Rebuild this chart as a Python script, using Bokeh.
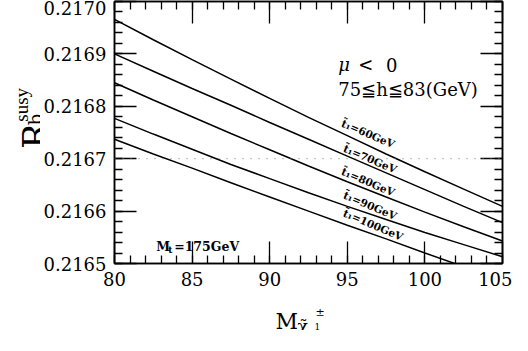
import numpy as np
from bokeh.plotting import figure
from bokeh.layouts import row, column
from bokeh.models import FixedTicker, PrintfTickFormatter, LinearAxis, Label, Span, Range1d, ColumnDataSource
from bokeh.embed import file_html
from bokeh.resources import INLINE
from bokeh.core.properties import value

# ---- data ----
mass = [80, 82.5, 85, 87.5, 90, 92.5, 95, 97.5, 100, 102.5, 105]
rb_60 = [0.216966, 0.216927, 0.216889, 0.216852, 0.216815, 0.216779, 0.216744, 0.216709, 0.216675, 0.216642, 0.216609]
rb_70 = [0.216900, 0.216867, 0.216834, 0.216802, 0.216769, 0.216737, 0.216705, 0.216673, 0.216641, 0.216609, 0.216578]
rb_80 = [0.216845, 0.216812, 0.216780, 0.216748, 0.216717, 0.216686, 0.216656, 0.216627, 0.216598, 0.216570, 0.216543]
rb_90 = [0.216777, 0.216747, 0.216718, 0.216689, 0.216662, 0.216635, 0.216609, 0.216584, 0.216559, 0.216536, 0.216513]
rb_100 = [0.216737, 0.216709, 0.216682, 0.216654, 0.216627, 0.216600, 0.216573, 0.216547, 0.216520, 0.216494, 0.216467]

curve_labels = ["t\u0303\u2081=60GeV", "t\u0303\u2081=70GeV", "t\u0303\u2081=80GeV", "t\u0303\u2081=90GeV", "t\u0303\u2081=100GeV"]
label_x = [96.35, 96.47, 96.35, 96.47, 96.67]
label_y = [0.216748, 0.216700, 0.216656, 0.216611, 0.216574]

x_ticks = [80, 85, 90, 95, 100, 105]
y_ticks = [0.2165, 0.2166, 0.2167, 0.2168, 0.2169, 0.2170]
ref_line = 0.2167

X0, X1, Y0, Y1 = 80, 105, 0.2165, 0.2170

# page-pixel layout
PAGE_L, PAGE_T, PAGE_W, PAGE_H = 8, 8, 512, 330
YLAB_W = 40            # strip holding the y-axis title
FL, FT, FW, FH = 120, 9, 390, 262   # plot frame box on the page
MAIN_H = 292           # main figure height (frame + tick labels)
XLAB_H = PAGE_H - MAIN_H


def dx(px):
    return X0 + (px - FL) / FW * (X1 - X0)


def dy(py):
    return Y1 - (py - FT) / FH * (Y1 - Y0)


main_w = PAGE_W - YLAB_W
p = figure(width=main_w, height=MAIN_H, title=None,
           x_range=Range1d(X0, X1), y_range=Range1d(Y0, Y1),
           output_backend="svg", toolbar_location=None,
           min_border_left=FL - PAGE_L - YLAB_W, min_border_right=main_w - (FL - PAGE_L - YLAB_W) - FW,
           min_border_top=FT - PAGE_T, min_border_bottom=MAIN_H - (FT - PAGE_T) - FH,
           x_axis_location=None, y_axis_location=None)
p.grid.visible = False
p.outline_line_color = "black"
p.outline_line_width = 1.5
p.background_fill_color = "white"
p.border_fill_color = "white"

xt = FixedTicker(ticks=x_ticks, minor_ticks=list(np.arange(80, 106, 1.0)))
yt = FixedTicker(ticks=y_ticks, minor_ticks=list(np.round(np.arange(0.2165, 0.21701, 0.00002), 6)))


def style(ax, show):
    ax.major_tick_in = 22
    ax.major_tick_out = 0
    ax.minor_tick_in = 8
    ax.minor_tick_out = 0
    ax.major_tick_line_width = 1.3
    ax.minor_tick_line_width = 1.3
    ax.major_tick_line_color = "black"
    ax.minor_tick_line_color = "black"
    ax.axis_line_width = 1.5
    ax.axis_line_color = "black"
    if show:
        ax.major_label_text_font = "DejaVu Serif"
        ax.major_label_text_font_size = "18px"
        ax.major_label_text_color = "black"
        ax.major_label_standoff = 8
    else:
        ax.major_label_text_font_size = "0px"
        ax.major_label_text_color = None
        ax.major_label_standoff = 0


bx = LinearAxis(ticker=xt)
style(bx, True)
p.add_layout(bx, "below")
lx = LinearAxis(ticker=yt, formatter=PrintfTickFormatter(format="%.4f"))
style(lx, True)
p.add_layout(lx, "left")
tx = LinearAxis(ticker=xt)
style(tx, False)
p.add_layout(tx, "above")
rx = LinearAxis(ticker=yt)
style(rx, False)
p.add_layout(rx, "right")

p.add_layout(Span(location=ref_line, dimension="width", line_color="#777777",
                  line_width=1, line_dash="1 7"))

for ys in (rb_60, rb_70, rb_80, rb_90, rb_100):
    p.line(mass, ys, line_color="black", line_width=1.5)

src = ColumnDataSource(dict(x=label_x, y=label_y, t=curve_labels))
p.text(x="x", y="y", text="t", source=src, angle=-23, angle_units="deg",
       text_align="center", text_baseline="middle",
       text_font=value("DejaVu Serif"), text_font_style="bold",
       text_font_size="10.5px", text_color="black")


def lab(px, py, text, size, font="DejaVu Serif", style="normal"):
    p.add_layout(Label(x=dx(px), y=dy(py), text=text, text_font=font,
                       text_font_size=size, text_font_style=style, text_color="black",
                       text_align="left", text_baseline="alphabetic"))


lab(345, 72, "\u03bc", "18px", style="italic")
lab(365, 72, "<", "18px")
lab(393, 72, "0", "18px")
lab(345, 97, "75\u2266h\u226683(GeV)", "18px")
lab(162, 254, "M", "12.5px", style="bold")
lab(174, 257, "t", "9px", style="bold")
lab(180, 254, "=175GeV", "12.5px", style="bold")


def strip(w, h, x0, y0):
    # a text-only figure whose ranges are page pixels (y pointing down)
    f = figure(width=w, height=h, title=None,
               x_range=Range1d(x0, x0 + w), y_range=Range1d(y0 + h, y0),
               output_backend="svg", toolbar_location=None,
               min_border_left=0, min_border_right=0, min_border_top=0, min_border_bottom=0,
               x_axis_location=None, y_axis_location=None)
    f.grid.visible = False
    f.outline_line_color = None
    f.background_fill_color = "white"
    f.border_fill_color = "white"
    return f


def txt(f, px, py, text, size, font="DejaVu Serif", style="normal", angle=0):
    f.text(x=[px], y=[py], text=[text], angle=angle, angle_units="deg",
           text_align="left", text_baseline="alphabetic",
           text_font=value(font), text_font_size=size, text_font_style=style,
           text_color="black")


# y axis title  R_b^susy
yf = strip(YLAB_W, MAIN_H, PAGE_L, PAGE_T)
txt(yf, 42, 172, "R", "34px", angle=90)
txt(yf, 43, 146, "b", "18px", font="DejaVu Serif", angle=90)
txt(yf, 29, 142, "susy", "19px", font="Liberation Serif", angle=90)

# x axis title  M_chi~1^+-
xf = strip(PAGE_W, XLAB_H, PAGE_L, PAGE_T + MAIN_H)
txt(xf, 283, 329, "M", "22px")
txt(xf, 305, 333, "\u03c7\u0303", "17px")
txt(xf, 322, 334, "1", "9px")
txt(xf, 323, 320, "\u00b1", "11px")

layout = column(row(yf, p, spacing=0), xf, spacing=0)
open("out.html", "w").write(file_html(layout, INLINE))
